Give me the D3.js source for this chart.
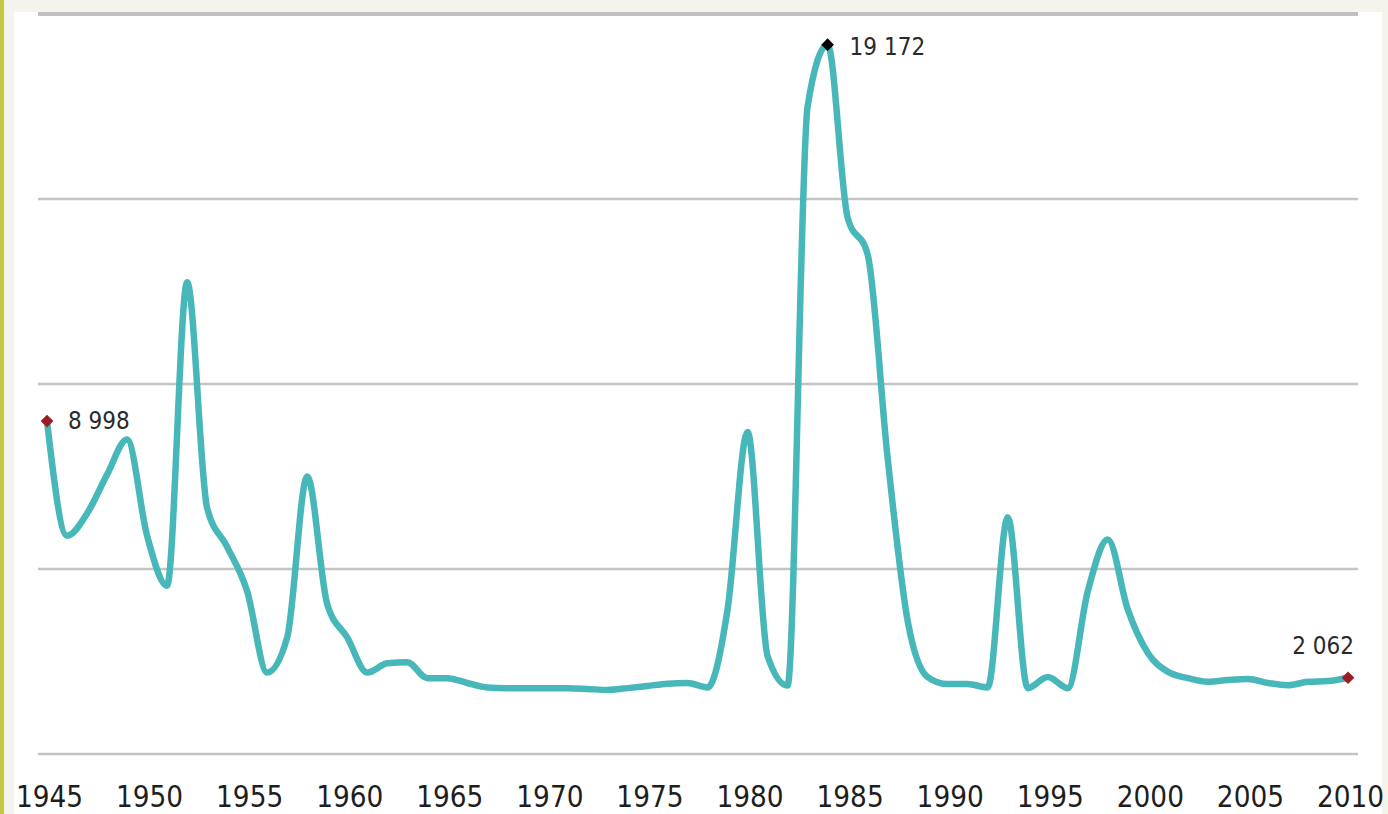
<!DOCTYPE html>
<html><head><meta charset="utf-8">
<script src="https://cdn.jsdelivr.net/npm/d3@7"></script>
<style>
html,body{margin:0;padding:0;background:#f4f4ec;}
svg{display:block;}
</style></head>
<body>
<svg id="chart" width="1388" height="814"></svg>
<script>
const years = [1945,1946,1947,1948,1949,1950,1951,1952,1953,1954,1955,1956,1957,1958,1959,1960,1961,1962,1963,1964,1965,1966,1967,1968,1969,1970,1971,1972,1973,1974,1975,1976,1977,1978,1979,1980,1981,1982,1983,1984,1985,1986,1987,1988,1989,1990,1991,1992,1993,1994,1995,1996,1997,1998,1999,2000,2001,2002,2003,2004,2005,2006,2007,2008,2009,2010];
const values = [8998,5900,6500,7550,8500,5900,4550,12750,6650,5600,4400,2200,3150,7500,4050,3150,2200,2450,2480,2050,2050,1920,1800,1780,1780,1780,1780,1760,1730,1780,1840,1900,1920,1800,3900,8700,2650,1850,17500,19172,14500,13500,8000,3600,2080,1890,1890,1800,6400,1780,2080,1780,4400,5800,3900,2730,2220,2050,1950,2000,2030,1920,1860,1950,1970,2062];
const tickYears = [1945,1950,1955,1960,1965,1970,1975,1980,1985,1990,1995,2000,2005,2010];
const gridValues = [0,5000,10000,15000,20000];
const labelled = [
  {year:1945, text:"8 998", color:"#9b1c25", anchor:"start", dx:21, dy:8},
  {year:1984, text:"19 172", color:"#000000", anchor:"start", dx:22, dy:10},
  {year:2010, text:"2 062", color:"#9b1c25", anchor:"end", dx:6, dy:-24}
];

const svg = d3.select("#chart");
svg.append("rect").attr("x",0).attr("y",0).attr("width",1388).attr("height",814).attr("fill","#f4f4ec");
svg.append("rect").attr("x",0).attr("y",0).attr("width",4).attr("height",814).attr("fill","#c3c93a");
svg.append("rect").attr("x",14).attr("y",12).attr("width",1368).attr("height",802).attr("fill","#ffffff");

const x = d3.scaleLinear().domain([1945,2010]).range([47,1348]);
const y = d3.scaleLinear().domain([0,20000]).range([754,14]);

svg.append("g").selectAll("line").data(gridValues).join("line")
  .attr("x1",38).attr("x2",1358)
  .attr("y1",d=>y(d)).attr("y2",d=>y(d))
  .attr("stroke",d=>d===20000?"#c0c0c0":"#c4c4c4").attr("stroke-width",d=>d===20000?4:2.5);

const axis = d3.axisBottom(x).tickValues(tickYears).tickFormat(d3.format("d")).tickSize(0).tickPadding(0);
const ax = svg.append("g").attr("transform","translate(2,807)").call(axis);
ax.select(".domain").remove();
ax.selectAll("text")
  .attr("y",0).attr("dy",0)
  .attr("font-family","DejaVu Sans, Verdana, sans-serif")
  .attr("font-size",30)
  .attr("fill","#1e1e1e")
  .attr("transform","scale(0.88,1)");

const data = years.map((yr,i)=>({year:yr, value:values[i]}));
const line = d3.line().x(d=>x(d.year)).y(d=>y(d.value)).curve(d3.curveMonotoneX);
svg.append("path").datum(data).attr("d",line)
  .attr("fill","none").attr("stroke","#48b7b9").attr("stroke-width",6.5)
  .attr("stroke-linejoin","round").attr("stroke-linecap","round");

labelled.forEach(l=>{
  const v = values[years.indexOf(l.year)];
  const px = x(l.year), py = y(v);
  svg.append("path").attr("d", d3.symbol().type(d3.symbolSquare).size(80)())
    .attr("transform",`translate(${px},${py}) rotate(45)`)
    .attr("fill",l.color);
  svg.append("text").attr("x",px+l.dx).attr("y",py+l.dy)
    .attr("text-anchor",l.anchor)
    .attr("font-family","DejaVu Sans, Verdana, sans-serif")
    .attr("font-size",24)
    .attr("fill","#2a2a2a")
    .attr("transform",`translate(${(px+l.dx)*0.1},0) scale(0.9,1)`)
    .text(l.text);
});
</script>
</body></html>
